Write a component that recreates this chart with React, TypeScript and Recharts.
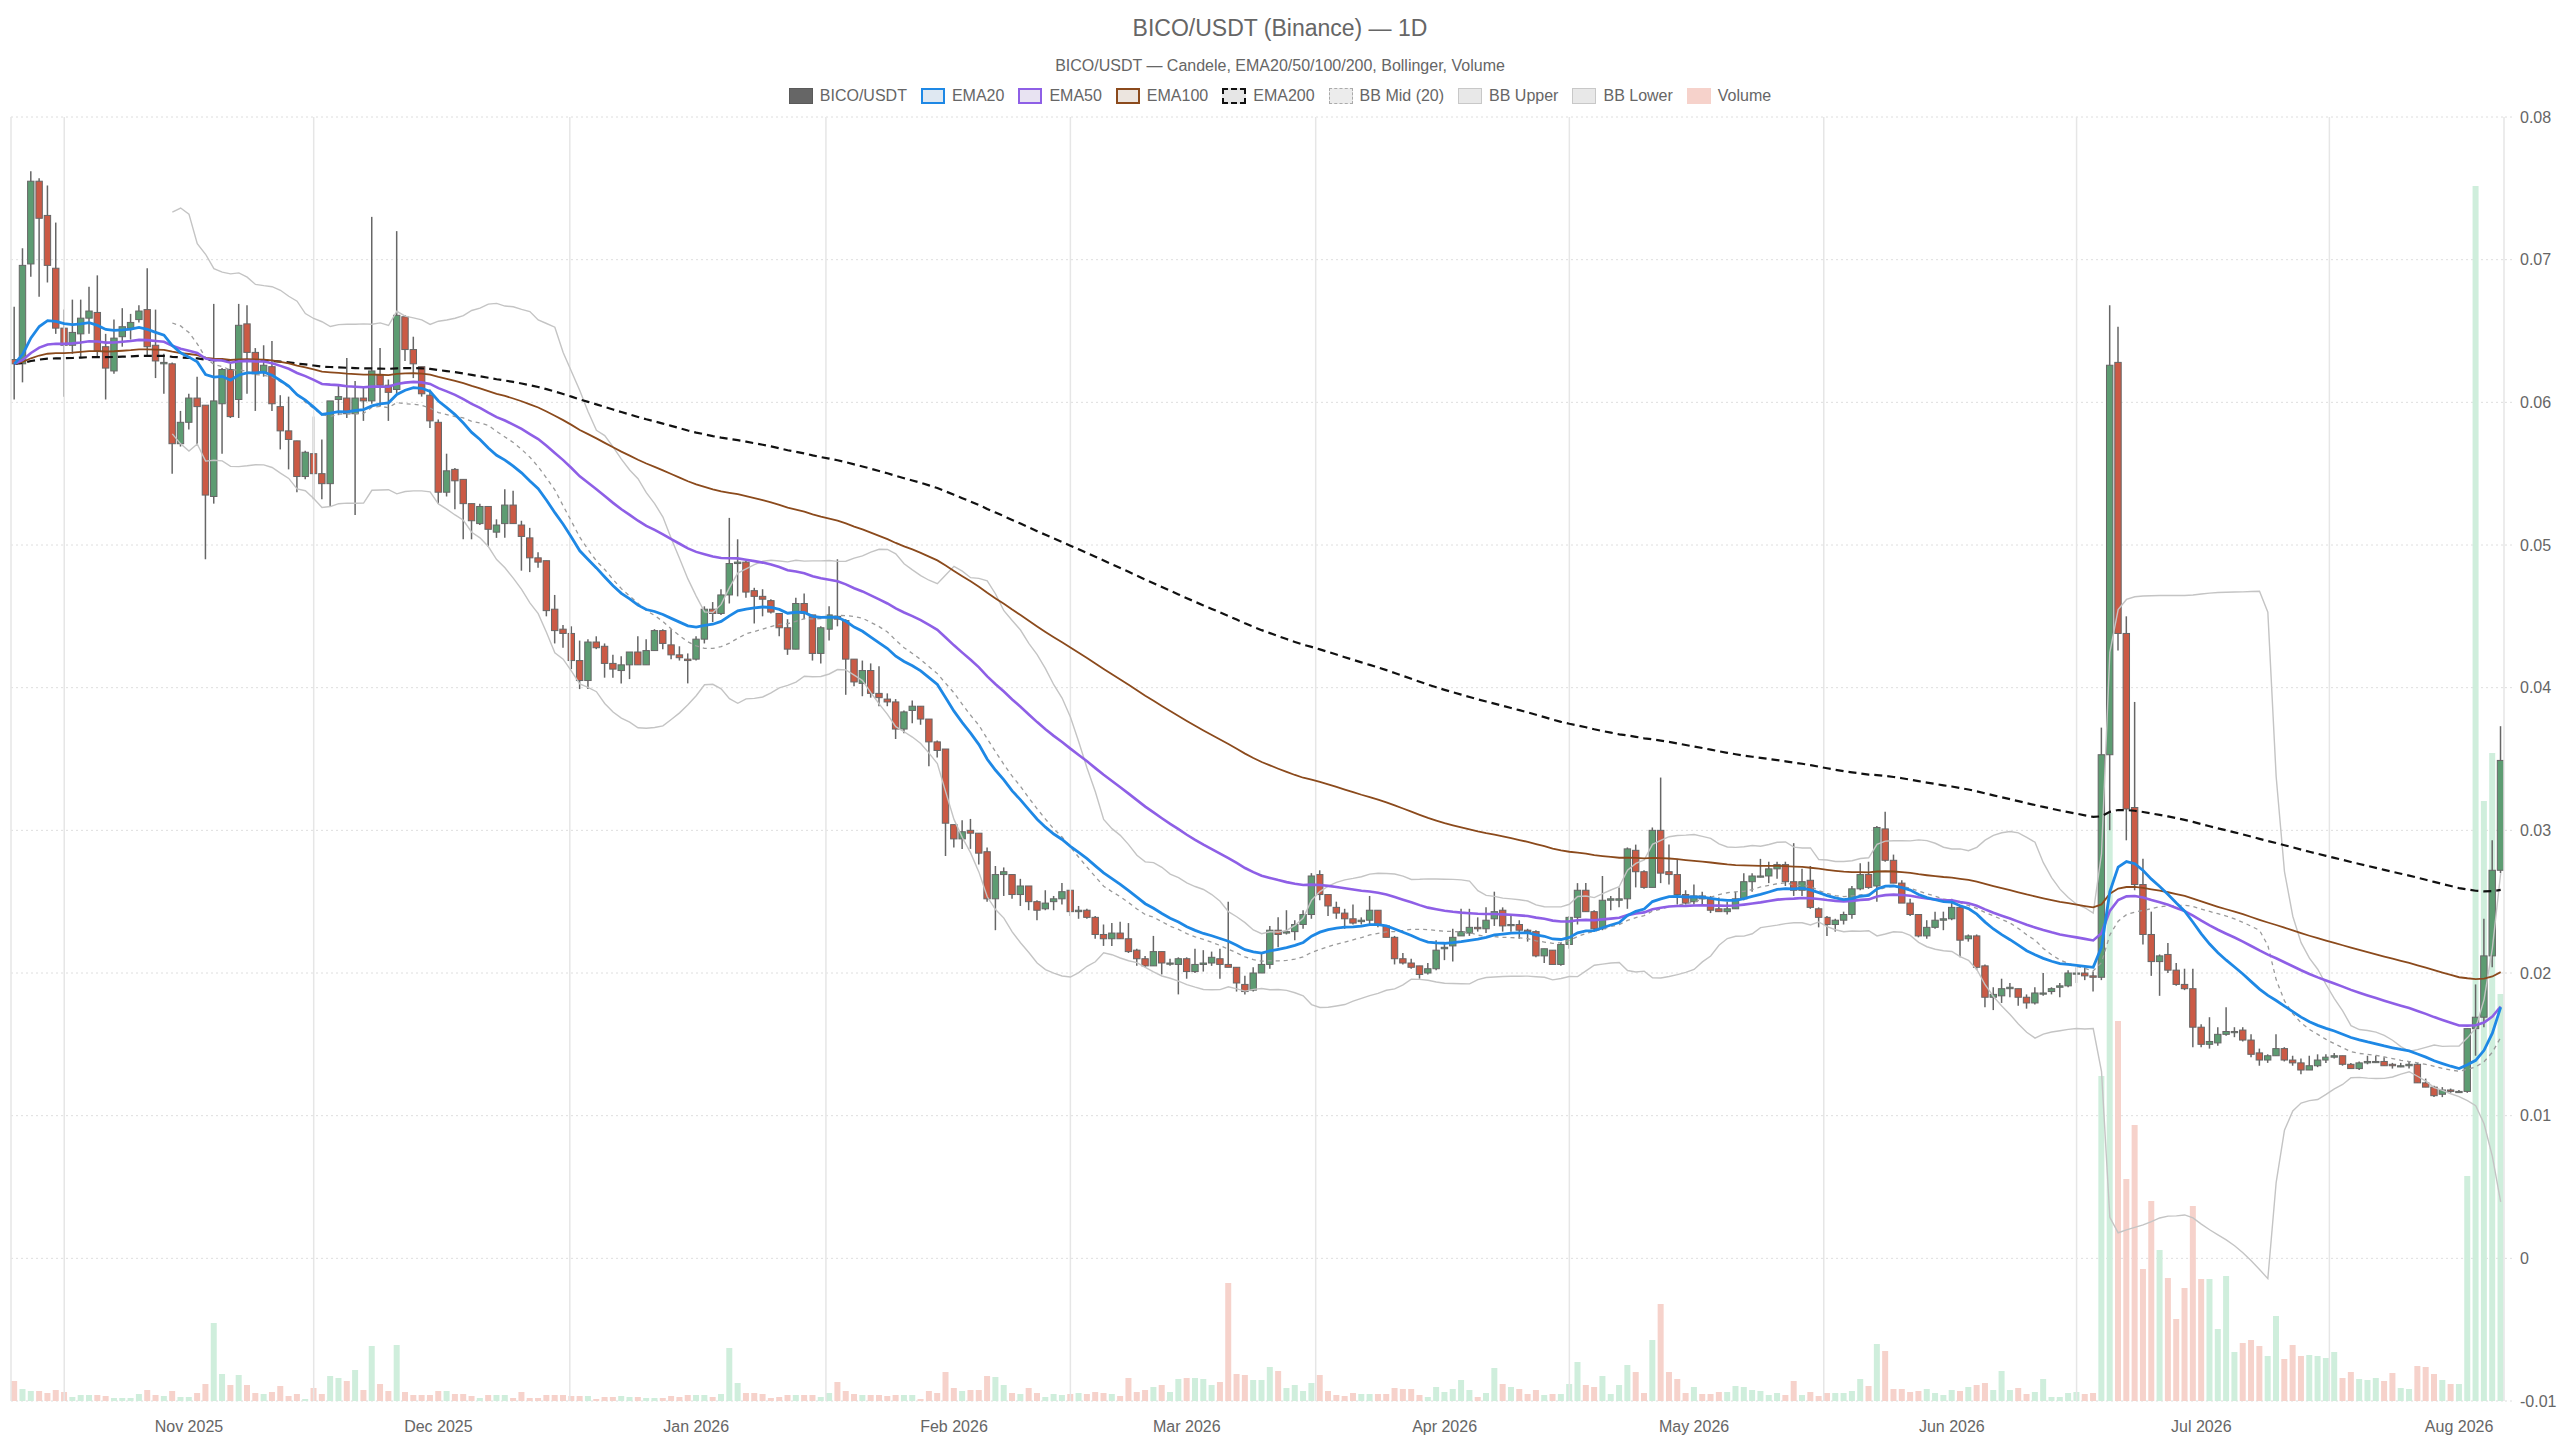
import React from "react";
import {
  ComposedChart, Bar, Line, Cell,
  XAxis, YAxis, CartesianGrid, ReferenceLine
} from "recharts";

const FONT = '"Liberation Sans", Arial, Helvetica, sans-serif';
const TEXT = "#666";
const UP = "#5d9c72";
const DOWN = "#cb5a45";
const UP_VOL = "#cfeedc";
const DOWN_VOL = "#f6d2cb";

// one candle per day, day 0 = 26 Oct 2025
const OPEN = [
  0.0630, 0.0627, 0.0697, 0.0755, 0.0731, 0.0694, 0.0652, 0.0640, 0.0648, 0.0659,
  0.0663, 0.0639, 0.0622, 0.0646, 0.0652, 0.0658, 0.0665, 0.0640, 0.0627, 0.0627,
  0.0571, 0.0586, 0.0603, 0.0598, 0.0534, 0.0599, 0.0623, 0.0602, 0.0655, 0.0635,
  0.0621, 0.0625, 0.0597, 0.0580, 0.0573, 0.0548, 0.0564, 0.0550, 0.0543, 0.0602,
  0.0603, 0.0592, 0.0603, 0.0601, 0.0619, 0.0612, 0.0609, 0.0660, 0.0637, 0.0625,
  0.0605, 0.0586, 0.0537, 0.0553, 0.0546, 0.0529, 0.0515, 0.0527, 0.0509, 0.0515,
  0.0528, 0.0514, 0.0505, 0.0491, 0.0489, 0.0455, 0.0441, 0.0438, 0.0419, 0.0405,
  0.0432, 0.0429, 0.0417, 0.0412, 0.0416, 0.0425, 0.0416, 0.0426, 0.0440, 0.0430,
  0.0423, 0.0420, 0.0420, 0.0434, 0.0455, 0.0452, 0.0465, 0.0487, 0.0488, 0.0468,
  0.0464, 0.0461, 0.0452, 0.0442, 0.0427, 0.0459, 0.0451, 0.0424, 0.0441, 0.0450,
  0.0447, 0.0420, 0.0403, 0.0412, 0.0396, 0.0392, 0.0390, 0.0371, 0.0384, 0.0387,
  0.0378, 0.0362, 0.0357, 0.0304, 0.0294, 0.0300, 0.0298, 0.0285, 0.0252, 0.0269,
  0.0269, 0.0255, 0.0261, 0.0250, 0.0245, 0.0250, 0.0252, 0.0258, 0.0243, 0.0244,
  0.0239, 0.0227, 0.0224, 0.0228, 0.0224, 0.0216, 0.0210, 0.0205, 0.0215, 0.0207,
  0.0206, 0.0210, 0.0201, 0.0206, 0.0207, 0.0210, 0.0206, 0.0204, 0.0192, 0.0188,
  0.0200, 0.0206, 0.0230, 0.0228, 0.0229, 0.0234, 0.0241, 0.0269, 0.0255, 0.0246,
  0.0242, 0.0238, 0.0236, 0.0237, 0.0244, 0.0233, 0.0225, 0.0210, 0.0207, 0.0205,
  0.0200, 0.0203, 0.0217, 0.0219, 0.0226, 0.0228, 0.0232, 0.0231, 0.0238, 0.0244,
  0.0234, 0.0234, 0.0230, 0.0229, 0.0212, 0.0216, 0.0206, 0.0220, 0.0239, 0.0258,
  0.0243, 0.0231, 0.0251, 0.0251, 0.0252, 0.0286, 0.0271, 0.0260, 0.0300, 0.0271,
  0.0269, 0.0255, 0.0250, 0.0254, 0.0252, 0.0245, 0.0243, 0.0245, 0.0252, 0.0264,
  0.0268, 0.0268, 0.0273, 0.0276, 0.0264, 0.0258, 0.0265, 0.0245, 0.0239, 0.0234,
  0.0237, 0.0241, 0.0259, 0.0269, 0.0261, 0.0301, 0.0279, 0.0263, 0.0249, 0.0241,
  0.0226, 0.0232, 0.0237, 0.0238, 0.0246, 0.0224, 0.0226, 0.0205, 0.0183, 0.0184,
  0.0189, 0.0189, 0.0183, 0.0179, 0.0186, 0.0187, 0.0190, 0.0191, 0.0200, 0.0200,
  0.0198, 0.0197, 0.0353, 0.0628, 0.0438, 0.0316, 0.0262, 0.0227, 0.0208, 0.0213,
  0.0202, 0.0192, 0.0189, 0.0162, 0.0150, 0.0151, 0.0157, 0.0159, 0.0160, 0.0153,
  0.0144, 0.0139, 0.0142, 0.0147, 0.0139, 0.0137, 0.0132, 0.0135, 0.0139, 0.0141,
  0.0142, 0.0136, 0.0133, 0.0137, 0.0138, 0.0138, 0.0136, 0.0135, 0.0135, 0.0136,
  0.0123, 0.0120, 0.0115, 0.0118, 0.0117, 0.0117, 0.0161, 0.0169, 0.0212, 0.0272,
];

const HIGH = [
  0.0667, 0.0708, 0.0762, 0.0757, 0.0752, 0.0726, 0.0665, 0.0672, 0.0672, 0.0681,
  0.0689, 0.0648, 0.0658, 0.0666, 0.0662, 0.0668, 0.0694, 0.0665, 0.0634, 0.0628,
  0.0594, 0.0606, 0.0618, 0.0598, 0.0669, 0.0624, 0.0627, 0.0669, 0.0668, 0.0638,
  0.0640, 0.0643, 0.0605, 0.0604, 0.0573, 0.0566, 0.0590, 0.0574, 0.0601, 0.0612,
  0.0631, 0.0615, 0.0611, 0.0730, 0.0638, 0.0616, 0.0720, 0.0661, 0.0646, 0.0625,
  0.0609, 0.0588, 0.0564, 0.0554, 0.0546, 0.0529, 0.0529, 0.0527, 0.0518, 0.0539,
  0.0538, 0.0517, 0.0512, 0.0495, 0.0489, 0.0465, 0.0444, 0.0443, 0.0433, 0.0434,
  0.0436, 0.0431, 0.0423, 0.0422, 0.0425, 0.0436, 0.0434, 0.0441, 0.0441, 0.0441,
  0.0429, 0.0424, 0.0436, 0.0457, 0.0460, 0.0469, 0.0519, 0.0504, 0.0489, 0.0470,
  0.0469, 0.0462, 0.0452, 0.0448, 0.0463, 0.0466, 0.0451, 0.0443, 0.0457, 0.0490,
  0.0448, 0.0420, 0.0419, 0.0417, 0.0415, 0.0396, 0.0392, 0.0384, 0.0391, 0.0387,
  0.0378, 0.0363, 0.0357, 0.0304, 0.0307, 0.0308, 0.0298, 0.0288, 0.0275, 0.0274,
  0.0269, 0.0266, 0.0261, 0.0251, 0.0258, 0.0254, 0.0263, 0.0258, 0.0247, 0.0245,
  0.0240, 0.0234, 0.0235, 0.0236, 0.0235, 0.0217, 0.0212, 0.0226, 0.0215, 0.0210,
  0.0211, 0.0211, 0.0217, 0.0216, 0.0215, 0.0217, 0.0250, 0.0204, 0.0198, 0.0204,
  0.0214, 0.0233, 0.0239, 0.0244, 0.0237, 0.0244, 0.0270, 0.0272, 0.0255, 0.0250,
  0.0245, 0.0248, 0.0239, 0.0254, 0.0244, 0.0233, 0.0226, 0.0214, 0.0210, 0.0205,
  0.0207, 0.0223, 0.0221, 0.0231, 0.0245, 0.0245, 0.0239, 0.0246, 0.0257, 0.0246,
  0.0240, 0.0237, 0.0231, 0.0230, 0.0217, 0.0216, 0.0221, 0.0240, 0.0263, 0.0263,
  0.0244, 0.0268, 0.0254, 0.0260, 0.0288, 0.0290, 0.0272, 0.0302, 0.0337, 0.0290,
  0.0280, 0.0258, 0.0262, 0.0257, 0.0254, 0.0253, 0.0250, 0.0257, 0.0270, 0.0270,
  0.0280, 0.0278, 0.0278, 0.0278, 0.0291, 0.0273, 0.0275, 0.0246, 0.0240, 0.0238,
  0.0243, 0.0261, 0.0277, 0.0278, 0.0303, 0.0313, 0.0283, 0.0265, 0.0252, 0.0241,
  0.0237, 0.0243, 0.0243, 0.0252, 0.0247, 0.0227, 0.0227, 0.0206, 0.0190, 0.0196,
  0.0193, 0.0189, 0.0185, 0.0190, 0.0200, 0.0190, 0.0193, 0.0202, 0.0204, 0.0204,
  0.0201, 0.0372, 0.0668, 0.0653, 0.0450, 0.0390, 0.0280, 0.0243, 0.0213, 0.0221,
  0.0207, 0.0203, 0.0203, 0.0164, 0.0169, 0.0162, 0.0176, 0.0162, 0.0162, 0.0157,
  0.0147, 0.0143, 0.0157, 0.0148, 0.0142, 0.0140, 0.0142, 0.0143, 0.0143, 0.0144,
  0.0142, 0.0137, 0.0138, 0.0142, 0.0142, 0.0141, 0.0137, 0.0137, 0.0138, 0.0137,
  0.0126, 0.0121, 0.0120, 0.0119, 0.0118, 0.0161, 0.0192, 0.0238, 0.0293, 0.0373,
];

const LOW = [
  0.0602, 0.0614, 0.0688, 0.0674, 0.0684, 0.0648, 0.0604, 0.0634, 0.0631, 0.0648,
  0.0632, 0.0602, 0.0620, 0.0639, 0.0644, 0.0656, 0.0632, 0.0617, 0.0606, 0.0550,
  0.0569, 0.0581, 0.0570, 0.0490, 0.0529, 0.0564, 0.0589, 0.0589, 0.0606, 0.0594,
  0.0618, 0.0594, 0.0567, 0.0553, 0.0537, 0.0546, 0.0532, 0.0532, 0.0527, 0.0591,
  0.0589, 0.0521, 0.0587, 0.0599, 0.0597, 0.0587, 0.0606, 0.0629, 0.0617, 0.0604,
  0.0582, 0.0529, 0.0534, 0.0525, 0.0504, 0.0504, 0.0514, 0.0499, 0.0505, 0.0505,
  0.0515, 0.0482, 0.0481, 0.0484, 0.0450, 0.0431, 0.0428, 0.0413, 0.0399, 0.0399,
  0.0427, 0.0407, 0.0407, 0.0403, 0.0406, 0.0416, 0.0416, 0.0426, 0.0427, 0.0420,
  0.0419, 0.0403, 0.0419, 0.0431, 0.0446, 0.0451, 0.0459, 0.0464, 0.0463, 0.0445,
  0.0450, 0.0452, 0.0436, 0.0423, 0.0427, 0.0448, 0.0419, 0.0417, 0.0433, 0.0443,
  0.0395, 0.0401, 0.0394, 0.0393, 0.0387, 0.0387, 0.0364, 0.0368, 0.0375, 0.0374,
  0.0345, 0.0351, 0.0282, 0.0288, 0.0287, 0.0287, 0.0276, 0.0250, 0.0230, 0.0254,
  0.0252, 0.0247, 0.0244, 0.0237, 0.0244, 0.0244, 0.0248, 0.0240, 0.0238, 0.0238,
  0.0224, 0.0219, 0.0219, 0.0224, 0.0214, 0.0205, 0.0204, 0.0205, 0.0199, 0.0205,
  0.0185, 0.0196, 0.0200, 0.0201, 0.0205, 0.0196, 0.0204, 0.0187, 0.0185, 0.0187,
  0.0200, 0.0203, 0.0218, 0.0227, 0.0223, 0.0231, 0.0238, 0.0251, 0.0240, 0.0238,
  0.0231, 0.0234, 0.0234, 0.0233, 0.0232, 0.0225, 0.0206, 0.0206, 0.0203, 0.0196,
  0.0199, 0.0202, 0.0209, 0.0208, 0.0226, 0.0226, 0.0229, 0.0228, 0.0233, 0.0229,
  0.0229, 0.0224, 0.0222, 0.0211, 0.0207, 0.0206, 0.0205, 0.0217, 0.0234, 0.0243,
  0.0230, 0.0230, 0.0244, 0.0246, 0.0245, 0.0260, 0.0259, 0.0260, 0.0263, 0.0262,
  0.0248, 0.0248, 0.0248, 0.0247, 0.0242, 0.0243, 0.0241, 0.0245, 0.0251, 0.0257,
  0.0267, 0.0263, 0.0266, 0.0261, 0.0254, 0.0254, 0.0245, 0.0232, 0.0226, 0.0229,
  0.0234, 0.0238, 0.0258, 0.0259, 0.0250, 0.0278, 0.0263, 0.0249, 0.0240, 0.0225,
  0.0224, 0.0231, 0.0230, 0.0237, 0.0211, 0.0222, 0.0202, 0.0176, 0.0174, 0.0179,
  0.0183, 0.0177, 0.0175, 0.0178, 0.0184, 0.0185, 0.0183, 0.0190, 0.0193, 0.0195,
  0.0187, 0.0195, 0.0300, 0.0426, 0.0293, 0.0258, 0.0220, 0.0198, 0.0184, 0.0200,
  0.0191, 0.0188, 0.0148, 0.0148, 0.0147, 0.0149, 0.0156, 0.0155, 0.0152, 0.0141,
  0.0135, 0.0137, 0.0142, 0.0138, 0.0135, 0.0129, 0.0132, 0.0134, 0.0137, 0.0140,
  0.0135, 0.0133, 0.0132, 0.0136, 0.0137, 0.0135, 0.0133, 0.0134, 0.0133, 0.0123,
  0.0120, 0.0113, 0.0113, 0.0116, 0.0116, 0.0116, 0.0142, 0.0162, 0.0204, 0.0270,
];

const CLOSE = [
  0.0627, 0.0696, 0.0755, 0.0729, 0.0696, 0.0652, 0.0640, 0.0649, 0.0659, 0.0664,
  0.0636, 0.0624, 0.0645, 0.0653, 0.0656, 0.0664, 0.0639, 0.0629, 0.0628, 0.0571,
  0.0586, 0.0603, 0.0597, 0.0535, 0.0601, 0.0623, 0.0590, 0.0654, 0.0635, 0.0620,
  0.0626, 0.0599, 0.0580, 0.0574, 0.0548, 0.0565, 0.0550, 0.0543, 0.0601, 0.0604,
  0.0592, 0.0603, 0.0601, 0.0622, 0.0612, 0.0607, 0.0661, 0.0637, 0.0627, 0.0606,
  0.0587, 0.0537, 0.0552, 0.0545, 0.0529, 0.0517, 0.0527, 0.0511, 0.0514, 0.0528,
  0.0515, 0.0506, 0.0491, 0.0488, 0.0454, 0.0440, 0.0438, 0.0419, 0.0405, 0.0432,
  0.0428, 0.0417, 0.0413, 0.0416, 0.0425, 0.0416, 0.0426, 0.0440, 0.0431, 0.0423,
  0.0421, 0.0419, 0.0434, 0.0455, 0.0452, 0.0465, 0.0487, 0.0488, 0.0467, 0.0464,
  0.0462, 0.0453, 0.0442, 0.0427, 0.0459, 0.0452, 0.0424, 0.0442, 0.0451, 0.0448,
  0.0420, 0.0404, 0.0412, 0.0396, 0.0393, 0.0390, 0.0371, 0.0383, 0.0387, 0.0378,
  0.0362, 0.0356, 0.0305, 0.0294, 0.0299, 0.0298, 0.0284, 0.0252, 0.0269, 0.0271,
  0.0255, 0.0261, 0.0250, 0.0244, 0.0249, 0.0252, 0.0257, 0.0243, 0.0244, 0.0239,
  0.0227, 0.0224, 0.0228, 0.0224, 0.0215, 0.0210, 0.0205, 0.0215, 0.0207, 0.0207,
  0.0210, 0.0201, 0.0206, 0.0207, 0.0211, 0.0206, 0.0204, 0.0193, 0.0187, 0.0200,
  0.0206, 0.0230, 0.0227, 0.0229, 0.0234, 0.0241, 0.0268, 0.0255, 0.0247, 0.0242,
  0.0238, 0.0235, 0.0237, 0.0244, 0.0234, 0.0225, 0.0210, 0.0207, 0.0204, 0.0199,
  0.0203, 0.0216, 0.0218, 0.0225, 0.0229, 0.0232, 0.0231, 0.0237, 0.0243, 0.0233,
  0.0234, 0.0230, 0.0229, 0.0212, 0.0217, 0.0206, 0.0220, 0.0239, 0.0258, 0.0243,
  0.0231, 0.0251, 0.0252, 0.0252, 0.0287, 0.0271, 0.0260, 0.0300, 0.0270, 0.0269,
  0.0255, 0.0249, 0.0254, 0.0252, 0.0244, 0.0243, 0.0245, 0.0252, 0.0264, 0.0268,
  0.0268, 0.0273, 0.0276, 0.0264, 0.0258, 0.0264, 0.0246, 0.0239, 0.0234, 0.0237,
  0.0241, 0.0259, 0.0269, 0.0260, 0.0302, 0.0279, 0.0263, 0.0249, 0.0241, 0.0226,
  0.0232, 0.0237, 0.0238, 0.0246, 0.0223, 0.0226, 0.0204, 0.0183, 0.0185, 0.0189,
  0.0190, 0.0183, 0.0179, 0.0186, 0.0186, 0.0189, 0.0191, 0.0200, 0.0200, 0.0198,
  0.0197, 0.0353, 0.0626, 0.0438, 0.0315, 0.0262, 0.0227, 0.0208, 0.0212, 0.0202,
  0.0192, 0.0189, 0.0162, 0.0150, 0.0152, 0.0157, 0.0159, 0.0159, 0.0153, 0.0143,
  0.0139, 0.0142, 0.0147, 0.0139, 0.0137, 0.0132, 0.0135, 0.0139, 0.0141, 0.0142,
  0.0136, 0.0133, 0.0137, 0.0138, 0.0138, 0.0135, 0.0135, 0.0135, 0.0136, 0.0123,
  0.0120, 0.0114, 0.0118, 0.0117, 0.0117, 0.0161, 0.0169, 0.0212, 0.0272, 0.0349,
];

// volume, relative units (hidden axis 0..1284)
const VOLUME = [
  20, 12, 10, 10, 8, 11, 9, 4, 6, 6,
  6, 5, 3, 3, 3, 7, 11, 6, 5, 10,
  4, 4, 8, 17, 78, 27, 16, 26, 16, 8,
  7, 9, 15, 5, 7, 2, 13, 7, 25, 23,
  20, 31, 11, 55, 17, 10, 56, 9, 6, 6,
  6, 10, 10, 7, 7, 5, 3, 6, 6, 6,
  3, 9, 3, 3, 6, 6, 6, 5, 5, 5,
  2, 4, 4, 5, 4, 4, 3, 3, 3, 5,
  4, 6, 6, 6, 4, 7, 53, 18, 8, 8,
  7, 3, 4, 6, 6, 6, 6, 4, 8, 19,
  10, 7, 6, 6, 6, 5, 6, 6, 6, 2,
  10, 8, 29, 13, 10, 11, 11, 25, 24, 16,
  8, 7, 13, 8, 4, 7, 6, 7, 8, 7,
  9, 8, 7, 5, 23, 9, 11, 14, 16, 9,
  22, 23, 23, 22, 16, 19, 118, 27, 26, 21,
  21, 34, 30, 13, 16, 10, 18, 26, 10, 6,
  5, 8, 7, 7, 7, 7, 13, 12, 12, 6,
  4, 14, 9, 12, 21, 11, 4, 8, 33, 17,
  14, 12, 7, 11, 6, 7, 7, 17, 39, 16,
  14, 25, 7, 16, 36, 29, 8, 61, 97, 29,
  22, 8, 14, 7, 7, 9, 9, 15, 14, 11,
  10, 6, 8, 6, 20, 6, 9, 5, 8, 8,
  8, 10, 22, 15, 57, 50, 12, 12, 9, 10,
  12, 8, 6, 11, 10, 14, 16, 18, 11, 30,
  11, 13, 7, 9, 22, 4, 4, 8, 9, 7,
  8, 325, 588, 380, 222, 276, 132, 200, 151, 123,
  82, 113, 195, 122, 122, 72, 125, 49, 58, 61,
  55, 45, 85, 42, 56, 45, 46, 45, 43, 49,
  23, 29, 22, 21, 23, 20, 28, 13, 12, 35,
  34, 27, 21, 17, 17, 225, 1215, 600, 648, 407,
];

const MONTH_TICKS = [21, 51, 82, 113, 141, 172, 202, 233, 263, 294];
const MONTH_LABELS = [
  "Nov 2025", "Dec 2025", "Jan 2026", "Feb 2026", "Mar 2026",
  "Apr 2026", "May 2026", "Jun 2026", "Jul 2026", "Aug 2026",
];
const MONTH_BOUNDS = [6, 36, 66.8, 97.6, 127, 156.5, 187, 217.6, 248, 278.4];
const PRICE_TICKS = [-0.01, 0, 0.01, 0.02, 0.03, 0.04, 0.05, 0.06, 0.07, 0.08];
const X_MIN = -0.4;
const X_MAX = 299.4;

// indicators, computed from the closes like the source chart does
function ema(src: number[], n: number) {
  const k = 2 / (n + 1);
  const out: number[] = [];
  src.forEach((v, i) => out.push(i === 0 ? v : out[i - 1] + k * (v - out[i - 1])));
  return out;
}

function bollinger(src: number[], n: number, mult: number) {
  const mid: (number | null)[] = [];
  const up: (number | null)[] = [];
  const lo: (number | null)[] = [];
  src.forEach((_, i) => {
    if (i < n - 1) {
      mid.push(null); up.push(null); lo.push(null);
      return;
    }
    const win = src.slice(i - n + 1, i + 1);
    const m = win.reduce((a, b) => a + b, 0) / n;
    const sd = Math.sqrt(win.reduce((a, b) => a + (b - m) * (b - m), 0) / n);
    mid.push(m); up.push(m + mult * sd); lo.push(m - mult * sd);
  });
  return { mid, up, lo };
}

const EMA20 = ema(CLOSE, 20);
const EMA50 = ema(CLOSE, 50);
const EMA100 = ema(CLOSE, 100);
const EMA200 = ema(CLOSE, 200);
const BB = bollinger(CLOSE, 20, 2);

const rows = CLOSE.map((c, i) => ({
  i,
  open: OPEN[i],
  high: HIGH[i],
  low: LOW[i],
  close: c,
  range: [LOW[i], HIGH[i]],
  volume: VOLUME[i],
  ema20: EMA20[i],
  ema50: EMA50[i],
  ema100: EMA100[i],
  ema200: EMA200[i],
  bbMid: BB.mid[i],
  bbUp: BB.up[i],
  bbLo: BB.lo[i],
}));

const Candle = (props: any) => {
  const { x, y, width, height, payload } = props;
  if (!payload || x == null) return null;
  const top = Math.min(y, y + height);
  const h = Math.abs(height);
  const { open, close, high, low } = payload;
  const span = high - low;
  const toY = (v: number) => (span === 0 ? top : top + ((high - v) / span) * h);
  const cx = x + width / 2;
  const up = close >= open;
  const bTop = toY(Math.max(open, close));
  const bBot = toY(Math.min(open, close));
  const bw = 6.4;
  return (
    <g>
      <line x1={cx} x2={cx} y1={top} y2={top + h} stroke="#666" strokeWidth={1.5} />
      <rect
        x={cx - bw / 2}
        y={bTop}
        width={bw}
        height={Math.max(1.2, bBot - bTop)}
        fill={up ? UP : DOWN}
        stroke="#666"
        strokeWidth={1}
      />
    </g>
  );
};

const LEGEND = [
  { label: "BICO/USDT", fill: "#666", border: "1px solid #5a5a5a" },
  { label: "EMA20", fill: "#dfe8f2", border: "2px solid #1e88e5" },
  { label: "EMA50", fill: "#e8e3f2", border: "2px solid #8e5fe6" },
  { label: "EMA100", fill: "#ece5df", border: "2px solid #8b4a1c" },
  { label: "EMA200", fill: "#e6e6e6", border: "2px dashed #111" },
  { label: "BB Mid (20)", fill: "#ececec", border: "1.5px dashed #aaa" },
  { label: "BB Upper", fill: "#e8e8e8", border: "1.5px solid #c8c8c8" },
  { label: "BB Lower", fill: "#e8e8e8", border: "1.5px solid #c8c8c8" },
  { label: "Volume", fill: "#f6d2cb", border: "1px solid #f6d2cb" },
];

const fmtPrice = (v: number) => (v === 0 ? "0" : v.toFixed(2));
const fmtMonth = (v: number) => MONTH_LABELS[MONTH_TICKS.indexOf(v)] ?? "";

const W = 2560;
const H = 1440;

export default function App() {
  return (
    <div
      style={{
        position: "fixed", left: 0, top: 0, width: W, height: H,
        background: "#fff", fontFamily: FONT, color: TEXT,
      }}
    >
      <ComposedChart
        width={W}
        height={H}
        data={rows}
        margin={{ top: 117, right: 0, bottom: 0, left: 11 }}
      >
        <CartesianGrid vertical={false} stroke="#dedede" strokeDasharray="2 3" />
        {MONTH_BOUNDS.map(b => (
          <ReferenceLine key={b} x={b} stroke="#e6e6e6" strokeWidth={1.5} ifOverflow="visible" />
        ))}
        <ReferenceLine x={X_MIN} stroke="#e6e6e6" strokeWidth={1.5} ifOverflow="visible" />
        <ReferenceLine x={X_MAX} stroke="#e6e6e6" strokeWidth={1.5} ifOverflow="visible" />

        <XAxis
          dataKey="i"
          type="number"
          domain={[X_MIN, X_MAX]}
          allowDataOverflow
          ticks={MONTH_TICKS}
          interval={0}
          tickFormatter={fmtMonth}
          axisLine={false}
          tickLine={false}
          tickSize={0}
          tickMargin={20}
          height={39}
          tick={{ fontSize: 16, fill: TEXT }}
        />
        <XAxis xAxisId="v" dataKey="i" type="number" domain={[X_MIN, X_MAX]} allowDataOverflow hide />
        <YAxis
          orientation="right"
          domain={[-0.01, 0.08]}
          allowDataOverflow
          ticks={PRICE_TICKS}
          interval={0}
          tickFormatter={fmtPrice}
          width={56}
          axisLine={false}
          tickLine={{ stroke: "#dedede", strokeDasharray: "2 3" }}
          tickSize={8}
          tickMargin={8}
          tick={{ fontSize: 16, fill: TEXT }}
        />
        <YAxis yAxisId="v" domain={[0, 1284]} allowDataOverflow hide />

        <Bar xAxisId="v" yAxisId="v" dataKey="volume" barSize={6} isAnimationActive={false}>
          {rows.map(r => (
            <Cell key={r.i} fill={r.close >= r.open ? UP_VOL : DOWN_VOL} />
          ))}
        </Bar>

        <Line dataKey="bbLo" stroke="#c4c4c4" strokeWidth={1.4} dot={false} activeDot={false} isAnimationActive={false} />
        <Line dataKey="bbUp" stroke="#c4c4c4" strokeWidth={1.4} dot={false} activeDot={false} isAnimationActive={false} />
        <Line dataKey="bbMid" stroke="#9a9a9a" strokeWidth={1.3} strokeDasharray="4 4" dot={false} activeDot={false} isAnimationActive={false} />
        <Line dataKey="ema200" stroke="#111" strokeWidth={2.2} strokeDasharray="8 5" dot={false} activeDot={false} isAnimationActive={false} />
        <Line dataKey="ema100" stroke="#8b4a1c" strokeWidth={1.8} dot={false} activeDot={false} isAnimationActive={false} />
        <Line dataKey="ema50" stroke="#8e5fe6" strokeWidth={2.6} dot={false} activeDot={false} isAnimationActive={false} />
        <Line dataKey="ema20" stroke="#1e88e5" strokeWidth={2.8} dot={false} activeDot={false} isAnimationActive={false} />

        <Bar dataKey="range" barSize={6} shape={(p: any) => <Candle {...p} />} isAnimationActive={false} />
      </ComposedChart>

      <div style={{ position: "absolute", top: 15, left: 0, width: W, textAlign: "center", fontSize: 23, lineHeight: "26px" }}>
        BICO/USDT (Binance) — 1D
      </div>
      <div style={{ position: "absolute", top: 56, left: 0, width: W, textAlign: "center", fontSize: 16, lineHeight: "20px" }}>
        BICO/USDT — Candele, EMA20/50/100/200, Bollinger, Volume
      </div>
      <div
        style={{
          position: "absolute", top: 86, left: 0, width: W, display: "flex",
          justifyContent: "center", alignItems: "center", gap: 14, fontSize: 16, lineHeight: "20px",
        }}
      >
        {LEGEND.map(item => (
          <div key={item.label} style={{ display: "flex", alignItems: "center" }}>
            <span
              style={{
                display: "inline-block", width: 24, height: 16, boxSizing: "border-box",
                background: item.fill, border: item.border, marginRight: 7,
              }}
            />
            <span>{item.label}</span>
          </div>
        ))}
      </div>
    </div>
  );
}
